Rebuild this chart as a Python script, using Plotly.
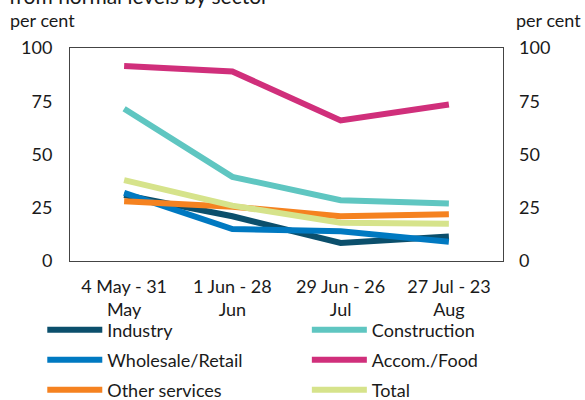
import plotly.graph_objects as go

# Periods (four-week windows)
periods = ["4 May - 31<br>May", "1 Jun - 28<br>Jun", "29 Jun - 26<br>Jul", "27 Jul - 23<br>Aug"]

# Turnover reduction from normal levels, per cent
industry = [31, 21, 8.5, 11.5]
construction = [71.5, 39.5, 28.5, 27]
wholesale_retail = [32, 15, 14, 9]
accom_food = [91.5, 89, 66, 73.5]
other_services = [28, 25.5, 21, 22]
total = [38, 26, 18, 17.5]

y_ticks = [0, 25, 50, 75, 100]

series = [
    ("Industry", industry, "#0b4f6c"),
    ("Construction", construction, "#5fc6c1"),
    ("Wholesale/Retail", wholesale_retail, "#0079c1"),
    ("Accom./Food", accom_food, "#d02f7b"),
    ("Other services", other_services, "#f58220"),
    ("Total", total, "#d6e38b"),
]

FONT = "Lato, Noto Sans, sans-serif"
TXT = "#1a1a1a"

# Legend laid out as a 2-column grid: one legend box per entry
col_x = [-0.064, 0.547]
row_y = [-0.324, -0.465, -0.606]
legend_names = ["legend"] + [f"legend{i}" for i in range(2, 7)]

fig = go.Figure()
for i, (name, vals, color) in enumerate(series):
    fig.add_trace(go.Scatter(
        x=periods, y=vals, name=name, mode="lines",
        line=dict(color=color, width=6),
        legend=legend_names[i],
    ))

# Invisible trace to carry the mirrored right-hand axis
fig.add_trace(go.Scatter(x=periods, y=total, yaxis="y2", mode="lines",
                         line=dict(width=0), showlegend=False, hoverinfo="skip"))

legend_layout = {}
for i, lname in enumerate(legend_names):
    legend_layout[lname] = dict(
        orientation="h", xanchor="left", yanchor="middle",
        x=col_x[i % 2], y=row_y[i // 2],
        itemwidth=55, font=dict(family=FONT, size=18, color=TXT),
        bgcolor="rgba(0,0,0,0)",
    )

fig.update_layout(
    width=585, height=400,
    margin=dict(l=70, r=82, t=48, b=139, autoexpand=False),
    paper_bgcolor="white", plot_bgcolor="white",
    font=dict(family=FONT, size=18, color=TXT),
    xaxis=dict(
        type="category", range=[-0.5, 3.5],
        showline=True, linecolor="#444444", linewidth=1, mirror=True,
        showgrid=False, ticks="", ticklabelstandoff=9,
        tickfont=dict(family=FONT, size=18, color=TXT),
    ),
    yaxis=dict(
        range=[0, 100], tickvals=y_ticks,
        showline=True, linecolor="#444444", linewidth=1, mirror=True,
        showgrid=False, zeroline=False, ticks="", ticklabelstandoff=13,
        tickfont=dict(family=FONT, size=18, color=TXT),
    ),
    yaxis2=dict(
        range=[0, 100], tickvals=y_ticks, overlaying="y", side="right",
        showline=False, showgrid=False, zeroline=False, ticks="",
        ticklabelstandoff=15,
        tickfont=dict(family=FONT, size=18, color=TXT),
    ),
    annotations=[
        dict(text="from normal levels by sector", xref="paper", yref="paper",
             x=-0.145, y=1.2488, xanchor="left", yanchor="middle", showarrow=False,
             font=dict(family=FONT, size=21, color=TXT)),
        dict(text="per cent", xref="paper", yref="paper",
             x=-0.143, y=1.1315, xanchor="left", yanchor="middle", showarrow=False,
             font=dict(family=FONT, size=18, color=TXT)),
        dict(text="per cent", xref="paper", yref="paper",
             x=1.185, y=1.1315, xanchor="right", yanchor="middle", showarrow=False,
             font=dict(family=FONT, size=18, color=TXT)),
    ],
    **legend_layout,
)

fig.write_html("out.html")
